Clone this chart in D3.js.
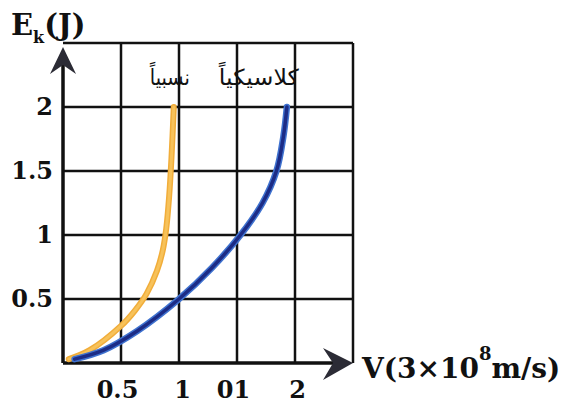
<!DOCTYPE html>
<html lang="en">
<head>
	<meta charset="UTF-8">
	<title>Ek - V</title>
	<script src="https://cdn.jsdelivr.net/npm/d3@7"></script>
	<style>
		body { margin: 0; background: #fff; }
		text { font-family: "DejaVu Serif", serif; font-weight: bold; fill: #111; }
		.ar { font-family: "DejaVu Sans", sans-serif; font-weight: normal; }
	</style>
</head>
<body>
	<svg id="svg"></svg>
	<script>
		// values (V in 3x10^8 m/s, Ek in J)
		var xTicks = [0.5, 1, 1.5, 2],
			xTickLabels = ["0.5", "1", "01", "2"],
			yTicks = [0.5, 1, 1.5, 2],
			yTickLabels = ["0.5", "1", "1.5", "2"],
			gridSteps = [0.5, 1, 1.5, 2, 2.5];

		var relV  = [0.05, 0.23, 0.5, 0.62, 0.72, 0.81, 0.86, 0.89, 0.915, 0.935, 0.955],
			relE  = [0.03, 0.10, 0.29, 0.41, 0.54, 0.72, 0.88, 1.05, 1.3, 1.6, 2.0];
		var clsV  = [0.1, 0.35, 0.64, 1.0, 1.28, 1.53, 1.72, 1.84, 1.9, 1.93],
			clsE  = [0.03, 0.1, 0.25, 0.5, 0.74, 1.0, 1.25, 1.5, 1.77, 2.0];

		var relLabel = "نسبياً",
			clsLabel = "كلاسيكياً";

		window.onload = function() {
			var w = 565, h = 405,
				svg = d3.select("#svg").attr("width", w).attr("height", h);

			var x = d3.scaleLinear().domain([0, 2.5]).range([63, 353]),
				y = d3.scaleLinear().domain([0, 2.5]).range([363, 43]);

			// grid
			svg.append("g").selectAll("line.v").data(gridSteps).enter().append("line")
				.attr("x1", d => x(d)).attr("x2", d => x(d))
				.attr("y1", y(0)).attr("y2", y(2.5))
				.attr("stroke", "#111").attr("stroke-width", 2.5);
			svg.append("g").selectAll("line.h").data(gridSteps).enter().append("line")
				.attr("x1", x(0)).attr("x2", x(2.5))
				.attr("y1", d => y(d)).attr("y2", d => y(d))
				.attr("stroke", "#111").attr("stroke-width", 2.5);

			// axes (labels only, lines drawn separately)
			var xAxis = d3.axisBottom(x).tickValues(xTicks).tickSize(0).tickPadding(0)
				.tickFormat((d, i) => xTickLabels[i]);
			var gx = svg.append("g").attr("transform", "translate(0,381)").call(xAxis);
			var yAxis = d3.axisLeft(y).tickValues(yTicks).tickSize(0).tickPadding(10)
				.tickFormat((d, i) => yTickLabels[i]);
			var gy = svg.append("g").attr("transform", "translate(" + x(0) + ",0)").call(yAxis);
			[gx, gy].forEach(function(g) {
				g.select(".domain").remove();
				g.selectAll("text").attr("font-size", 24).attr("fill", "#111")
					.attr("font-family", "DejaVu Serif").attr("font-weight", "bold");
			});
			gx.selectAll("text").attr("dy", "0.72em").attr("dx", (d, i) => [-4, 3, -4, 2][i]);

			// axis lines
			svg.append("line").attr("x1", x(0)).attr("x2", x(2.5) - 20)
				.attr("y1", y(0)).attr("y2", y(0)).attr("stroke", "#111").attr("stroke-width", 3.5);
			svg.append("line").attr("x1", x(0)).attr("x2", x(0))
				.attr("y1", y(0)).attr("y2", y(2.5) + 20).attr("stroke", "#111").attr("stroke-width", 3.5);

			// arrow heads
			var tx = x(2.5), ty = y(0);
			svg.append("path")
				.attr("d", "M" + tx + "," + ty + "L" + (tx - 30) + "," + (ty - 15) + "L" + (tx - 20) + "," + ty + "L" + (tx - 30) + "," + (ty + 17) + "Z")
				.attr("fill", "#2b2b35");
			var ux = x(0), uy = y(2.5) + 4;
			svg.append("path")
				.attr("d", "M" + ux + "," + uy + "L" + (ux - 13) + "," + (uy + 27) + "L" + ux + "," + (uy + 18) + "L" + (ux + 13) + "," + (uy + 27) + "Z")
				.attr("fill", "#2b2b35");

			// curves
			var line = d3.line().x(d => x(d[0])).y(d => y(d[1])).curve(d3.curveCatmullRom.alpha(0.5));
			var rel = d3.zip(relV, relE), cls = d3.zip(clsV, clsE);

			svg.append("path").datum(rel).attr("d", line).attr("fill", "none")
				.attr("stroke", "#f1ad3a").attr("stroke-width", 6).attr("stroke-linecap", "round");
			svg.append("path").datum(rel).attr("d", line).attr("fill", "none")
				.attr("stroke", "#f7c25a").attr("stroke-width", 3).attr("stroke-linecap", "round");

			svg.append("path").datum(cls).attr("d", line).attr("fill", "none")
				.attr("stroke", "#3f72cf").attr("stroke-width", 6.5).attr("stroke-linecap", "round");
			svg.append("path").datum(cls).attr("d", line).attr("fill", "none")
				.attr("stroke", "#1c2c86").attr("stroke-width", 3.5).attr("stroke-linecap", "round");

			// curve names
			svg.append("text").attr("class", "ar").attr("direction", "rtl")
				.attr("x", x(relV[relV.length - 1]) + 16).attr("y", y(2) - 22)
				.attr("font-size", 22).attr("textLength", 40).attr("lengthAdjust", "spacingAndGlyphs")
				.text(relLabel);
			svg.append("text").attr("class", "ar").attr("direction", "rtl")
				.attr("x", x(clsV[clsV.length - 1]) + 12).attr("y", y(2) - 22)
				.attr("font-size", 22).attr("textLength", 80).attr("lengthAdjust", "spacingAndGlyphs")
				.text(clsLabel);

			// axis titles
			var ey = svg.append("text").attr("x", 11).attr("y", 35).attr("font-size", 29);
			ey.append("tspan").text("E");
			ey.append("tspan").attr("font-size", 16).attr("dy", 8).text("k");
			ey.append("tspan").attr("dy", -8).text("(J)");

			var vx = svg.append("text").attr("x", 362).attr("y", 378).attr("font-size", 28);
			vx.append("tspan").text("V(3×10");
			vx.append("tspan").attr("font-size", 18).attr("dy", -18).text("8");
			vx.append("tspan").attr("dy", 18).text("m/s)");
		};
	</script>
</body>
</html>
